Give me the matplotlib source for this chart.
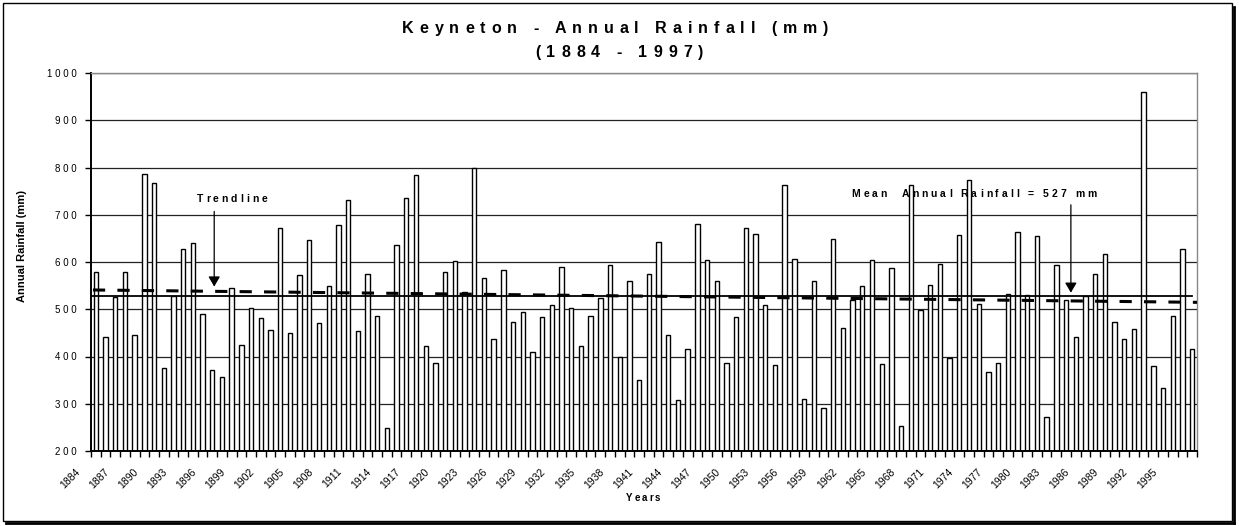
import numpy as np
import matplotlib
matplotlib.use("Agg")
import matplotlib.pyplot as plt
from matplotlib.patches import Rectangle
from matplotlib.lines import Line2D
import matplotlib.transforms as mtransforms

years = list(range(1884, 1998))
rainfall = [578, 442, 525, 578, 446, 786, 767, 376, 528, 627,
            640, 490, 372, 357, 546, 424, 502, 481, 457, 671,
            449, 572, 647, 470, 550, 678, 731, 454, 574, 486,
            249, 635, 735, 785, 422, 387, 579, 602, 536, 799,
            566, 437, 583, 474, 495, 410, 483, 508, 589, 502,
            423, 486, 524, 593, 398, 560, 351, 574, 642, 445,
            307, 416, 681, 604, 560, 387, 483, 673, 659, 508,
            382, 762, 606, 309, 560, 291, 648, 460, 519, 550,
            605, 384, 587, 252, 763, 498, 551, 595, 397, 657,
            773, 511, 367, 387, 533, 664, 531, 655, 273, 594,
            519, 442, 527, 574, 616, 472, 436, 458, 960, 380,
            334, 486, 627, 416]
yticks = [200, 300, 400, 500, 600, 700, 800, 900, 1000]
mean_label = 527

W, H = 1239, 526
plt.rcParams['font.family'] = ['Liberation Sans', 'DejaVu Sans']
fig = plt.figure(figsize=(W / 100, H / 100), dpi=100)
renderer = fig.canvas.get_renderer()


def spaced(s):
    return " ".join(list(s))


def text_width(s, size, weight):
    t = fig.text(0, 0, s, fontsize=size, fontweight=weight)
    w = t.get_window_extent(renderer=renderer).width
    t.remove()
    return w


def tracked(xc, ybase, s, size, target_w, weight='bold'):
    """Draw letter-spaced text centred at xc (px), baseline at ybase (px from top)."""
    widths = []
    for ch in s:
        if ch == ' ':
            widths.append(text_width('x x', size, weight) - text_width('xx', size, weight))
        else:
            widths.append(text_width(ch, size, weight))
    track = (target_w - sum(widths)) / max(len(s) - 1, 1)
    xp = xc - target_w / 2
    for ch, w in zip(s, widths):
        if ch != ' ':
            fig.text(xp / W, 1 - ybase / H, ch, fontsize=size, fontweight=weight,
                     ha='left', va='baseline')
        xp += w + track


ax = fig.add_axes([91 / W, 1 - 451 / H, (1197 - 91) / W, (451 - 73) / H])
x = np.arange(len(years))
vals = np.array(rainfall, dtype=float)

ax.set_xlim(-0.5, len(years) - 0.5)
ax.set_ylim(200, 1000)

for yv in yticks[1:]:
    ax.axhline(yv, color='#222222', lw=0.9, zorder=1)

ax.bar(x, vals - 200, bottom=200, width=0.45, color='white', edgecolor='black',
       linewidth=1.0, zorder=2)

# mean line
mean_val = vals.mean()
ax.plot([-0.5, len(years) - 1], [mean_val, mean_val], color='black', lw=1.3, zorder=3)

# trendline (linear fit)
coef = np.polyfit(x, vals, 1)
tx = np.array([-0.3, len(years) - 0.5])
ax.plot(tx, np.polyval(coef, tx), color='black', lw=2.2, ls=(0, (4, 4)), zorder=3)

# axes styling
for s in ['top', 'right']:
    ax.spines[s].set_color('#888888')
    ax.spines[s].set_linewidth(1.0)
ax.spines['left'].set_linewidth(1.4)
ax.spines['bottom'].set_linewidth(1.4)

ax.set_yticks(yticks)
ax.set_yticklabels([spaced(str(v)) for v in yticks], fontsize=7)
ax.tick_params(axis='y', direction='out', length=4, width=1, pad=6)

ax.set_xticks(x[::3])
ax.set_xticklabels([str(y) for y in years[::3]], rotation=45, ha='right',
                   rotation_mode='anchor', fontsize=7.5)
ax.set_xticks(np.arange(-0.5, len(years), 1.0), minor=True)
ax.tick_params(axis='x', which='major', length=0, pad=9)
ax.tick_params(axis='x', which='minor', direction='out', length=4, width=1)
offset = mtransforms.ScaledTranslation(-21 / 100, -3 / 100, fig.dpi_scale_trans)
for lab in ax.get_xticklabels():
    lab.set_transform(lab.get_transform() + offset)

fig.text(22 / W, 1 - 246 / H, 'Annual Rainfall (mm)', rotation=90, fontsize=8,
         fontweight='bold', ha='center', va='center')
tracked(643, 501, 'Years', 7, 34)

# annotations
ax.annotate('', xy=(12.2, 548), xytext=(12.2, 707),
            arrowprops=dict(arrowstyle='-|>,head_length=0.6,head_width=0.35',
                            color='black', lw=0.9, shrinkA=0, shrinkB=0), zorder=4)
tracked(232, 202, 'Trendline', 7.5, 71)
ax.annotate('', xy=(100.5, 535), xytext=(100.5, 721),
            arrowprops=dict(arrowstyle='-|>,head_length=0.6,head_width=0.35',
                            color='black', lw=0.9, shrinkA=0, shrinkB=0), zorder=4)
tracked(974, 197, 'Mean  Annual Rainfall = %d mm' % mean_label, 7.5, 245)

# title
tracked(615, 33, 'Keyneton - Annual Rainfall (mm)', 11.5, 426)
tracked(619, 57, '(1884 - 1997)', 11.5, 168)

# figure frame with shadow
fig.patches.append(Rectangle((3 / W, 5 / H), (1232 - 3) / W, (523 - 5) / H,
                             transform=fig.transFigure, fill=False, edgecolor='black',
                             lw=1.0))
fig.lines.append(Line2D([1234 / W, 1234 / W], [3 / H, 519 / H], transform=fig.transFigure,
                        color='black', lw=2.0))
fig.lines.append(Line2D([6 / W, 1234 / W], [3 / H, 3 / H], transform=fig.transFigure,
                        color='black', lw=2.0))

fig.savefig('out.png', dpi=100)
